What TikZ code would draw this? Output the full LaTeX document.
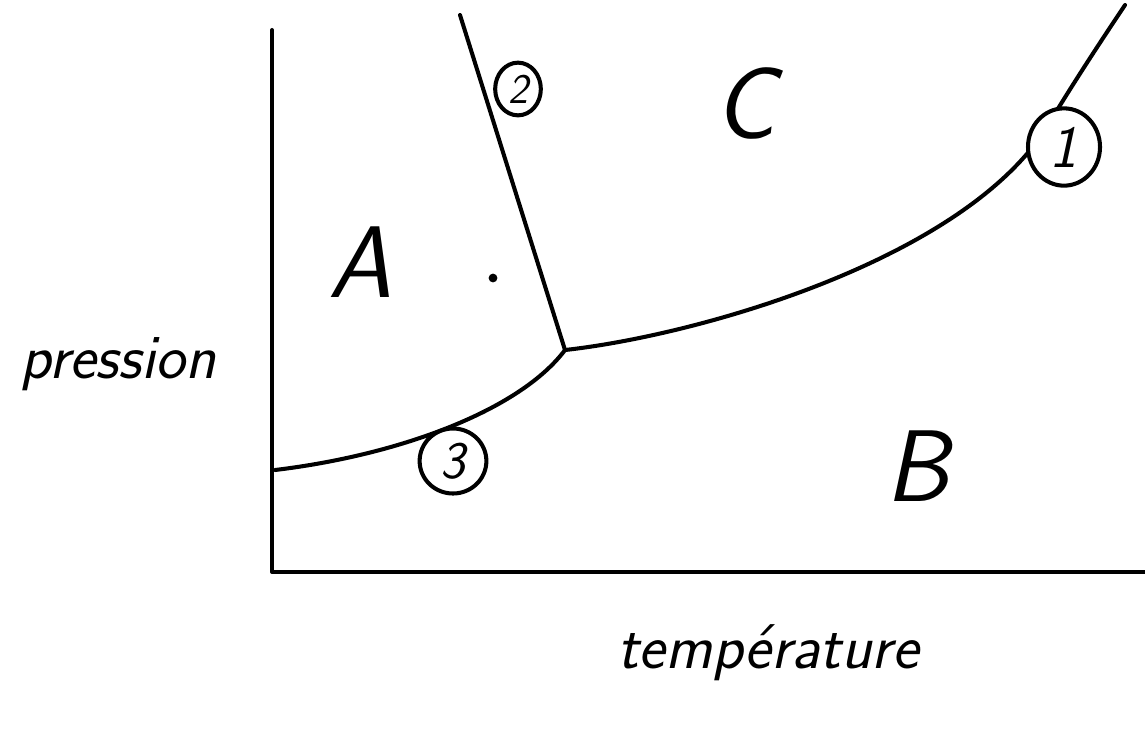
\documentclass[tikz,border=0pt]{standalone}
\usetikzlibrary{shapes.geometric}
\begin{document}
\begin{tikzpicture}[x=0.02cm,y=-0.02cm,
  ink/.style={line width=2.3pt,line cap=round,line join=round},
  region/.style={font=\sffamily\itshape\fontsize{58}{62}\selectfont,inner sep=0pt},
  axislabel/.style={font=\sffamily\itshape\fontsize{36}{40}\selectfont,inner sep=0pt},
  circled/.style={draw,ellipse,line width=2.3pt,fill=white,inner sep=0pt}]
\useasboundingbox (0,0) rectangle (1145,728);
% axes
\coordinate (ytop) at (272,30);
\coordinate (origin) at (272,572);
\coordinate (xend) at (1145,572);
\draw[ink] (ytop) -- (origin) -- (xend);
% triple point
\coordinate (T) at (565,350);
\coordinate (L) at (275,470);
\coordinate (R) at (1125,5);
\coordinate (U) at (460,15);
\draw[ink] (L) .. controls (400,455) and (520,410) .. (T);
\draw[ink] (T) .. controls (700,335) and (960,260) .. (1045,130) .. controls (1075,80) and (1105,35) .. (R);
\draw[ink] (U) -- (T);
% circled labels
\node[circled,font=\sffamily\itshape\fontsize{34}{36}\selectfont,minimum width=41pt,minimum height=44pt] (n1) at (1064,147) {1};
\node[circled,font=\sffamily\itshape\fontsize{24}{26}\selectfont,minimum width=26pt,minimum height=30pt] (n2) at (518,89) {2};
\node[circled,font=\sffamily\itshape\fontsize{30}{32}\selectfont,minimum width=38pt,minimum height=37pt] (n3) at (453,461) {3};
% regions
\node[region] (A) at (360,262) {A};
\node[region] (B) at (917,466) {B};
\node[region] (C) at (745,103) {C};
\fill (493,278) circle (2.5pt);
% axis labels
\node[axislabel,anchor=base] (p) at (118,378) {pression};
\node[axislabel,anchor=base] (t) at (768,668) {température};
\end{tikzpicture}
\end{document}
